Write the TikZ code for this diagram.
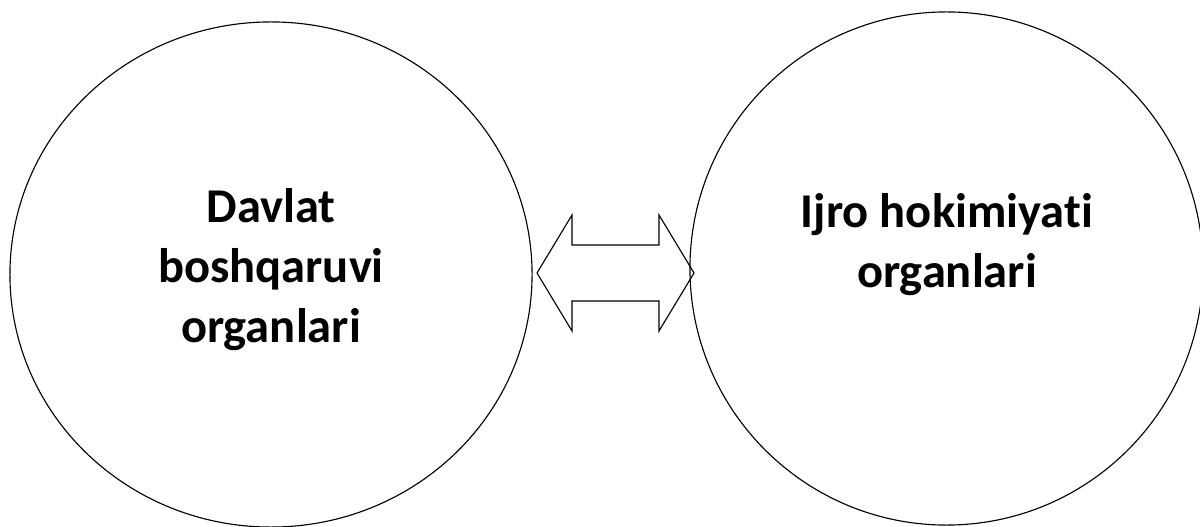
\documentclass[tikz,border=0pt]{standalone}
\usepackage{fontspec}
\setmainfont[Ligatures=NoCommon]{Carlito}
\usetikzlibrary{shapes.geometric}

\tikzset{
  organ/.style={draw, ellipse, line width=0.8pt, inner sep=0pt},
  organtext/.style={align=center, font=\bfseries\fontsize{34.5}{42.7}\selectfont},
  link/.style={draw, line width=0.8pt, line join=miter}
}

\begin{document}
\begin{tikzpicture}[x=0.025cm, y=0.025cm]
  \useasboundingbox (0,0) rectangle (1200,526);

  % the two bodies
  \node[organ, minimum width=13.05cm, minimum height=12.625cm] (boshqaruv) at (271,251.5) {};
  \node[organ, minimum width=12.825cm, minimum height=12.825cm] (ijro) at (946.5,257.5) {};

  \node[organtext] (boshqaruvtext) at (271,256) {Davlat\\boshqaruvi\\organlari};
  \node[organtext] (ijrotext) at (947,281) {Ijro hokimiyati\\organlari};

  % two-way block arrow between them
  \coordinate (ltip) at (537,253);
  \coordinate (rtip) at (694,253);
  \path[link] (ltip) -- (572,311) -- (572,281) -- (659,281) -- (659,311) -- (rtip)
    -- (659,195) -- (659,225) -- (572,225) -- (572,195) -- cycle;
\end{tikzpicture}
\end{document}
